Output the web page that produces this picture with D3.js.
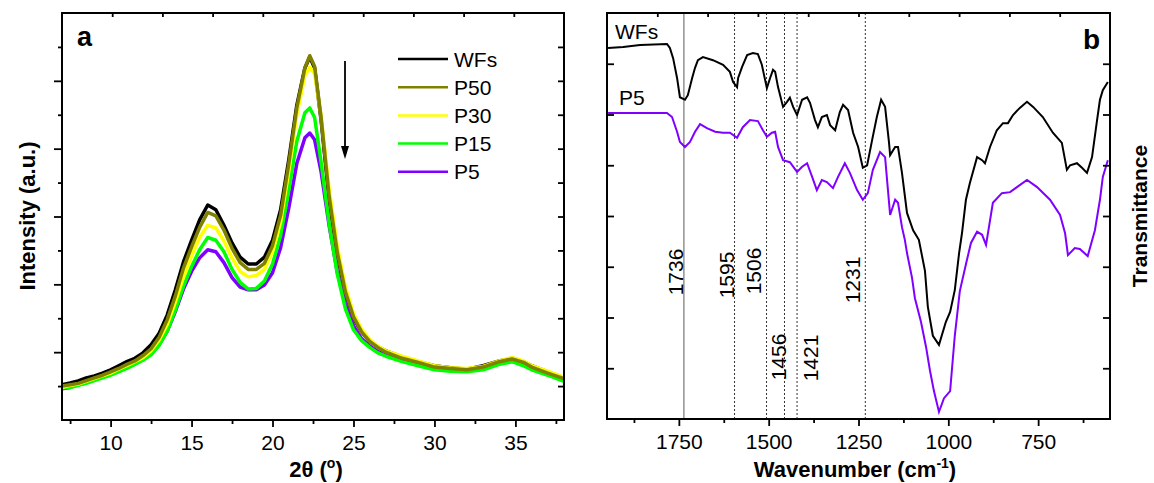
<!DOCTYPE html>
<html><head><meta charset="utf-8">
<script src="https://cdn.jsdelivr.net/npm/d3@7"></script>
<style>body{margin:0;background:#fff} svg{font-family:"Liberation Sans",Arial,sans-serif}</style>
</head><body><svg id="c" width="1154" height="483"></svg>
<script>
// ---------- Panel a: XRD ----------
const twoTheta = [7,7.5,8,8.5,9,9.5,10,10.5,11,11.5,12,12.5,13,13.5,14,14.5,15,15.5,16,16.5,17,17.5,18,18.5,19,19.5,20,20.5,21,21.5,22,22.3,22.6,23,23.5,24,24.5,25,25.5,26,26.5,27,28,29,30,31,32,33,34,34.8,35.5,36,37,38];
const xrdWFs = [520,545,575,620,650,690,740,800,860,910,990,1110,1280,1550,1920,2330,2650,2950,3170,3100,2870,2610,2400,2300,2300,2400,2650,3100,3830,4640,5190,5350,5190,4420,3240,2430,1870,1500,1300,1160,1080,1020,930,860,800,770,750,800,870,910,860,800,710,620];
const xrdP50 = [500,520,540,580,620,660,710,760,820,870,950,1050,1220,1480,1830,2240,2550,2840,3060,3010,2800,2530,2320,2220,2220,2310,2570,3020,3770,4600,5190,5370,5210,4460,3290,2470,1890,1520,1300,1160,1070,1000,910,850,780,760,740,780,860,900,850,780,690,610];
const xrdP30 = [480,510,530,570,610,650,690,750,800,860,920,1020,1180,1410,1740,2110,2420,2690,2870,2830,2640,2390,2190,2110,2130,2220,2480,2920,3660,4500,5080,5200,5100,4480,3400,2560,1960,1570,1340,1190,1090,1020,940,870,800,770,760,790,870,920,870,800,720,630];
const xrdP15 = [470,480,510,540,580,620,660,710,760,820,880,960,1100,1310,1620,1970,2260,2510,2690,2650,2480,2220,2030,1930,1940,2050,2300,2720,3380,4110,4530,4600,4460,3800,2890,2150,1640,1330,1170,1070,990,940,860,800,740,720,710,740,820,860,800,740,660,570];
const xrdP5 = [460,480,520,560,600,640,680,730,780,840,900,980,1110,1310,1600,1930,2190,2390,2510,2480,2320,2100,1960,1920,1920,1990,2170,2540,3120,3780,4160,4230,4130,3660,2860,2180,1710,1390,1200,1090,1010,960,880,820,760,740,730,760,830,870,830,760,680,600];
const xrdNames = ["WFs","P50","P30","P15","P5"];
const xrdColors = ["#000000","#808000","#ffff00","#00ff00","#8000ff"];
const xTicksA = [10,15,20,25,30,35];
const xMinorA = [7.5,12.5,17.5,22.5,27.5,32.5,37.5];

// ---------- Panel b: FTIR ----------
const ftirWFsWave = [1947,1905,1858,1783,1775,1766,1755,1747,1733,1725,1713,1705,1697,1683,1655,1627,1608,1599,1588,1585,1574,1560,1544,1530,1519,1513,1505,1496,1488,1482,1474,1460,1449,1441,1432,1421,1407,1393,1385,1371,1363,1352,1338,1329,1315,1302,1293,1279,1265,1251,1238,1226,1212,1199,1187,1176,1165,1162,1148,1140,1129,1115,1098,1082,1065,1057,1043,1026,1007,995,982,970,962,951,940,920,906,898,884,865,848,834,820,801,781,764,737,709,684,670,661,642,628,614,600,586,578,570,556];
const ftirWFsT = [73.1,73.3,73.7,73.9,73.1,71.1,67.2,63.4,62.9,63.8,67.2,69.2,70.7,71.3,70.7,69.8,68.4,66.4,65.4,67.2,69.4,71.7,72.1,71.9,69.8,67.8,65.2,67.2,68.8,68.4,65.4,61.5,62.5,63.3,61.5,59.9,62.9,63.4,62.3,58.9,57.5,59.5,59.9,57.9,56.9,60.5,61.9,60.9,56.4,53.6,49.5,50.0,55.0,59.5,62.9,61.5,54.4,52.0,53.6,53.6,48.5,40.6,37.2,35.3,29.2,22.1,16.4,14.6,19.1,21.1,25.4,32.7,36.6,43.2,46.5,51.6,51.0,50.4,53.6,56.9,58.3,58.3,59.9,61.3,62.5,61.5,59.5,56.4,54.4,49.1,50.0,50.4,49.5,48.5,51.6,58.9,62.9,64.8,66.4];
const ftirP5Wave = [1947,1858,1783,1769,1755,1747,1733,1719,1705,1691,1672,1649,1627,1608,1588,1572,1552,1530,1516,1505,1491,1482,1474,1460,1441,1421,1407,1393,1379,1366,1352,1338,1321,1307,1288,1274,1254,1238,1224,1210,1190,1176,1168,1162,1148,1140,1129,1121,1115,1101,1093,1076,1062,1051,1040,1026,1012,995,982,968,951,937,920,906,895,876,851,828,809,781,753,717,689,675,667,648,634,612,592,578,570,556];
const ftirP5T = [60.3,60.3,60.3,59.5,56.6,54.6,53.6,54.6,56.6,58.1,57.3,56.6,56.4,56.4,55.4,57.5,58.9,58.7,56.9,55.6,56.4,56.6,53.6,51.0,50.6,48.7,49.7,50.4,47.7,45.1,47.1,46.7,45.5,47.7,50.4,48.5,45.1,43.2,44.5,49.1,52.6,51.6,45.1,40.2,43.2,42.6,37.8,35.3,32.7,27.8,23.8,19.1,14.2,9.5,5.5,1.4,4.1,5.5,16.4,25.2,30.5,34.7,36.9,36.3,34.3,42.6,44.5,44.7,45.7,47.1,45.7,43.2,40.2,36.6,32.3,33.7,33.5,32.1,37.2,43.2,47.7,51.0];
const bandPositions = [1736,1595,1506,1456,1421,1231];
const xTicksB = [1750,1500,1250,1000,750];
const xMinorB = [1875,1625,1375,1125,875,625];

const svg = d3.select("#c");

// ---------- scales ----------
const xA = d3.scaleLinear().domain([7,38]).range([62,564]);
const yA = d3.scaleLinear().domain([0,6000]).range([420,13]);
const tA = d3.scaleLinear().domain([0,1]).range([62,564]);
const xB = d3.scaleLinear().domain([1950,550]).range([607,1110]);
const yB = d3.scaleLinear().domain([0,80]).range([419,13]);
const tB = d3.scaleLinear().domain([0,1]).range([607,1110]);

function styleAxis(g){
  g.select(".domain").remove();
  g.selectAll(".tick line").attr("stroke","#000").attr("stroke-width",1.8);
  g.selectAll(".tick text").attr("font-size",21).attr("fill","#000").attr("font-family","Liberation Sans, Arial, sans-serif");
}
const tenths = [0.1,0.2,0.3,0.4,0.5,0.6,0.7,0.8,0.9];

// ---------- Panel a ----------
const series = [xrdWFs,xrdP5,xrdP15,xrdP30,xrdP50];
const seriesColor = [xrdColors[0],xrdColors[4],xrdColors[3],xrdColors[2],xrdColors[1]];
const lineA = d3.line().x((d,i)=>xA(twoTheta[i])).y(d=>yA(d));
series.forEach((s,k)=>{
  svg.append("path").attr("d",lineA(s)).attr("fill","none")
    .attr("stroke",seriesColor[k]).attr("stroke-width",3.5).attr("stroke-linejoin","round");
});

svg.append("g").attr("transform","translate(0,420)")
  .call(d3.axisBottom(xA).tickValues(xTicksA).tickSize(7).tickPadding(8).tickFormat(d3.format("d"))).call(styleAxis);
svg.append("g").attr("transform","translate(0,420)")
  .call(d3.axisBottom(xA).tickValues(xMinorA).tickSize(4).tickFormat("")).call(styleAxis);
svg.append("g").attr("transform","translate(62,0)")
  .call(d3.axisLeft(yA).tickValues([1000,2000,3000,4000,5000]).tickSize(8).tickFormat("")).call(styleAxis);
svg.append("g").attr("transform","translate(62,0)")
  .call(d3.axisLeft(yA).tickValues([500,1500,2500,3500,4500,5500]).tickSize(4).tickFormat("")).call(styleAxis);
svg.append("g").attr("transform","translate(564,0)")
  .call(d3.axisRight(yA).tickValues(d3.range(500,6000,500)).tickSize(-6).tickFormat("")).call(styleAxis);
svg.append("g").attr("transform","translate(0,13)")
  .call(d3.axisTop(tA).tickValues(tenths).tickSize(-4).tickFormat("")).call(styleAxis);
svg.append("rect").attr("x",62).attr("y",13).attr("width",502).attr("height",407)
  .attr("fill","none").attr("stroke","#000").attr("stroke-width",2);

svg.append("text").attr("x",77).attr("y",46).attr("font-size",27).attr("font-weight","bold").text("a");

// legend
xrdNames.forEach((n,i)=>{
  const y = 59 + i*28.2;
  svg.append("line").attr("x1",398).attr("x2",448).attr("y1",y).attr("y2",y)
    .attr("stroke",xrdColors[i]).attr("stroke-width",2.5);
  svg.append("text").attr("x",454).attr("y",y+7.5).attr("font-size",21).text(n);
});
// arrow
svg.append("line").attr("x1",345).attr("x2",345).attr("y1",61).attr("y2",148).attr("stroke","#000").attr("stroke-width",1.8);
svg.append("path").attr("d","M341,146 L349,146 L345,159 Z").attr("fill","#000");

// titles
svg.append("text").attr("transform","translate(35,216) rotate(-90)").attr("text-anchor","middle")
  .attr("font-size",22).attr("font-weight","bold").text("Intensity (a.u.)");
const tx = svg.append("text").attr("x",316).attr("y",477).attr("text-anchor","middle").attr("font-size",22).attr("font-weight","bold");
tx.append("tspan").text("2θ (");
tx.append("tspan").attr("font-size",14).attr("dy",-9).text("o");
tx.append("tspan").attr("dy",9).text(")");

// ---------- Panel b ----------
bandPositions.forEach((b,i)=>{
  svg.append("line").attr("x1",xB(b)).attr("x2",xB(b)).attr("y1",13).attr("y2",419)
    .attr("stroke", i===0 ? "#808080" : "#333")
    .attr("stroke-width", i===0 ? 1.3 : 1)
    .attr("stroke-dasharray", i===0 ? null : "2,2");
});
const bandLabelPos = [[683,272],[734,275],[761,271],[786,357],[818,358],[860,280]];
bandPositions.forEach((b,i)=>{
  svg.append("text").attr("transform",`translate(${bandLabelPos[i][0]},${bandLabelPos[i][1]}) rotate(-90)`)
    .attr("text-anchor","middle").attr("font-size",21).text(String(b));
});

const lineB1 = d3.line().x((d,i)=>xB(ftirWFsWave[i])).y(d=>yB(d));
const lineB2 = d3.line().x((d,i)=>xB(ftirP5Wave[i])).y(d=>yB(d));
svg.append("path").attr("d",lineB1(ftirWFsT)).attr("fill","none").attr("stroke","#000").attr("stroke-width",2);
svg.append("path").attr("d",lineB2(ftirP5T)).attr("fill","none").attr("stroke","#8000ff").attr("stroke-width",2);

svg.append("g").attr("transform","translate(0,419)")
  .call(d3.axisBottom(xB).tickValues(xTicksB).tickSize(7).tickPadding(8).tickFormat(d3.format("d"))).call(styleAxis);
svg.append("g").attr("transform","translate(0,419)")
  .call(d3.axisBottom(xB).tickValues(xMinorB).tickSize(4).tickFormat("")).call(styleAxis);
svg.append("g").attr("transform","translate(607,0)")
  .call(d3.axisLeft(yB).tickValues(d3.range(10,80,10)).tickSize(-7).tickFormat("")).call(styleAxis);
svg.append("g").attr("transform","translate(1110,0)")
  .call(d3.axisRight(yB).tickValues(d3.range(10,80,10)).tickSize(-7).tickFormat("")).call(styleAxis);
svg.append("g").attr("transform","translate(0,13)")
  .call(d3.axisTop(tB).tickValues(tenths).tickSize(-4).tickFormat("")).call(styleAxis);
svg.append("rect").attr("x",607).attr("y",13).attr("width",503).attr("height",406)
  .attr("fill","none").attr("stroke","#000").attr("stroke-width",2);

svg.append("text").attr("x",1083).attr("y",49).attr("font-size",28).attr("font-weight","bold").text("b");
svg.append("text").attr("x",615).attr("y",39).attr("font-size",21).text("WFs");
svg.append("text").attr("x",619).attr("y",105).attr("font-size",21).text("P5");

const tw = svg.append("text").attr("x",855).attr("y",477).attr("text-anchor","middle").attr("font-size",22).attr("font-weight","bold");
tw.append("tspan").text("Wavenumber (cm");
tw.append("tspan").attr("font-size",14).attr("dy",-9).text("-1");
tw.append("tspan").attr("dy",9).text(")");
svg.append("text").attr("transform","translate(1147,216) rotate(-90)").attr("text-anchor","middle")
  .attr("font-size",21).attr("font-weight","bold").text("Transmittance");
</script></body></html>
